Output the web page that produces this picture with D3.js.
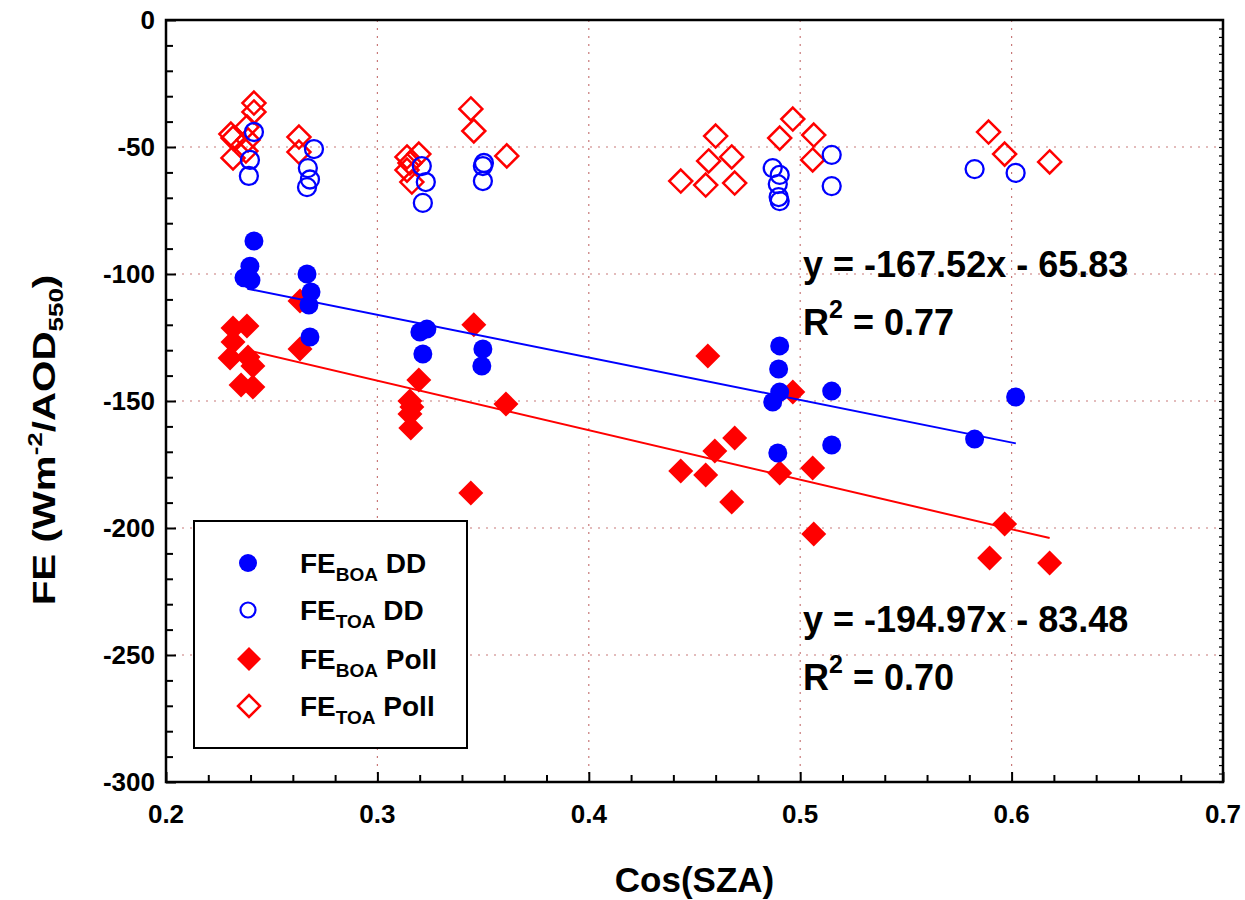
<!DOCTYPE html>
<html>
<head>
<meta charset="utf-8">
<script src="https://cdnjs.cloudflare.com/ajax/libs/d3/7.8.5/d3.min.js"></script>
<style>
  body { margin: 0; background: #fff; }
  svg { font-family: "Liberation Sans", Arial, sans-serif; font-weight: bold; }
</style>
</head>
<body>
<svg width="1245" height="900"></svg>
<script>
// FE at bottom / top of atmosphere vs cos(SZA)
var boaDD = [
  [0.2416, -87.0], [0.2397, -96.9], [0.2369, -101.5], [0.2402, -102.4],
  [0.2667, -100.0], [0.2686, -107.1], [0.2676, -112.2], [0.2681, -124.8],
  [0.3201, -122.8], [0.3234, -121.7], [0.3215, -131.5],
  [0.3499, -129.5], [0.3494, -136.2],
  [0.4903, -128.3], [0.4898, -137.4], [0.4903, -146.5], [0.4870, -150.4], [0.4894, -170.5],
  [0.5149, -146.1], [0.5149, -167.3], [0.5825, -165.0], [0.6019, -148.4]
];
var toaDD = [
  [0.2416, -44.1], [0.2397, -55.1], [0.2392, -61.4],
  [0.2700, -50.8], [0.2671, -58.3], [0.2681, -62.8], [0.2667, -65.8],
  [0.3210, -57.5], [0.3229, -63.8], [0.3215, -72.0],
  [0.3504, -56.3], [0.3499, -57.5], [0.3499, -63.4],
  [0.4870, -58.3], [0.4903, -61.0], [0.4894, -64.6], [0.4898, -69.7], [0.4903, -71.3],
  [0.5149, -53.1], [0.5149, -65.4], [0.5825, -58.7], [0.6019, -60.2]
];
var boaPoll = [
  [0.2317, -121.3], [0.2383, -120.5], [0.2317, -126.8], [0.2303, -133.1],
  [0.2388, -132.7], [0.2411, -136.2], [0.2355, -143.7], [0.2411, -144.5],
  [0.2634, -110.6], [0.2634, -129.5],
  [0.3196, -141.7], [0.3154, -150.0], [0.3163, -152.4], [0.3154, -155.1], [0.3158, -160.6],
  [0.3456, -120.0], [0.3442, -186.2], [0.3608, -151.2],
  [0.4563, -132.3], [0.4435, -177.6], [0.4553, -179.1], [0.4596, -169.7],
  [0.4690, -164.6], [0.4676, -189.8], [0.4903, -178.3], [0.4965, -146.5],
  [0.5059, -176.4], [0.5064, -202.4],
  [0.5896, -211.8], [0.5967, -198.4], [0.6180, -213.8]
];
var toaPoll = [
  [0.2416, -32.7], [0.2416, -36.2], [0.2307, -44.9], [0.2317, -46.5],
  [0.2383, -42.1], [0.2388, -47.2], [0.2378, -51.6], [0.2317, -54.3],
  [0.2629, -46.1], [0.2629, -52.0],
  [0.3196, -52.8], [0.3140, -53.9], [0.3154, -56.3], [0.3140, -59.1], [0.3163, -63.8],
  [0.3442, -35.0], [0.3456, -43.7], [0.3612, -53.5],
  [0.4600, -45.7], [0.4567, -55.5], [0.4676, -53.9],
  [0.4435, -63.4], [0.4553, -65.0], [0.4690, -64.2],
  [0.4965, -39.0], [0.4903, -46.5], [0.5064, -45.3], [0.5059, -55.1],
  [0.5891, -44.1], [0.5967, -52.8], [0.6180, -55.9]
];

// linear fits as printed on the chart, with the x span the fit line covers
var fitDD = { slope: -167.52, intercept: -65.83, r2: "0.77", from: 0.2385, to: 0.602 };
var fitPoll = { slope: -194.97, intercept: -83.48, r2: "0.70", from: 0.2397, to: 0.618 };

var xTicks = [0.2, 0.3, 0.4, 0.5, 0.6, 0.7];
var yTicks = [0, -50, -100, -150, -200, -250, -300];

var svg = d3.select("svg");
var mLeft = 166, mRight = 1223, mTop = 20, mBottom = 782;

var x = d3.scaleLinear().domain([0.2, 0.7]).range([mLeft, mRight]);
var y = d3.scaleLinear().domain([-300, 0]).range([mBottom, mTop]);

var blue = "#0000ff", red = "#ff0000";

// grid
var grid = svg.append("g")
  .attr("stroke", "#c87878")
  .attr("stroke-width", 1.2)
  .attr("stroke-dasharray", "2,6");
grid.selectAll("line.gx")
    .data(xTicks.slice(1, -1))
  .enter().append("line")
    .attr("x1", function(d) { return x(d); })
    .attr("x2", function(d) { return x(d); })
    .attr("y1", mTop).attr("y2", mBottom);
grid.selectAll("line.gy")
    .data(yTicks.slice(1, -1))
  .enter().append("line")
    .attr("y1", function(d) { return y(d); })
    .attr("y2", function(d) { return y(d); })
    .attr("x1", mLeft).attr("x2", mRight);

// axes, ticks pointing inside
var xAxis = svg.append("g").attr("transform", "translate(0," + mBottom + ")")
  .call(d3.axisBottom(x).tickValues(d3.range(0.2, 0.7001, 0.02))
    .tickSize(-7).tickFormat(""));
xAxis.selectAll(".tick line").attr("stroke-width", 2)
  .filter(function(d) { return Math.abs(d * 10 - Math.round(d * 10)) < 1e-6; })
  .attr("y2", -10);
xAxis.select(".domain").remove();

var yAxis = svg.append("g").attr("transform", "translate(" + mLeft + ",0)")
  .call(d3.axisLeft(y).tickValues(d3.range(-300, 0.001, 10))
    .tickSize(-7).tickFormat(""));
yAxis.selectAll(".tick line").attr("stroke-width", 2)
  .filter(function(d) { return d % 50 === 0; })
  .attr("x2", 10);
yAxis.select(".domain").remove();

var yAxisR = svg.append("g").attr("transform", "translate(" + mRight + ",0)")
  .call(d3.axisRight(y).tickValues(d3.range(-300, 0.001, 10 / 3))
    .tickSize(-4).tickFormat(""));
yAxisR.selectAll(".tick line").attr("stroke-width", 1.2);
yAxisR.select(".domain").remove();

svg.append("rect")
  .attr("x", mLeft).attr("y", mTop)
  .attr("width", mRight - mLeft).attr("height", mBottom - mTop)
  .attr("fill", "none").attr("stroke", "#000").attr("stroke-width", 2.5);

// tick labels
svg.selectAll("text.xt")
    .data(xTicks)
  .enter().append("text")
    .attr("x", function(d) { return x(d); })
    .attr("y", 823)
    .attr("text-anchor", "middle")
    .attr("font-size", 26)
    .text(function(d) { return d3.format(".1f")(d); });
svg.selectAll("text.yt")
    .data(yTicks)
  .enter().append("text")
    .attr("x", 155)
    .attr("y", function(d) { return y(d) + 9; })
    .attr("text-anchor", "end")
    .attr("font-size", 26)
    .text(function(d) { return d; });

// axis titles
svg.append("text")
  .attr("x", (mLeft + mRight) / 2).attr("y", 892)
  .attr("text-anchor", "middle").attr("font-size", 35)
  .text("Cos(SZA)");

var yt = svg.append("text")
  .attr("transform", "translate(55,440) rotate(-90) scale(1.3,1)")
  .attr("text-anchor", "middle").attr("font-size", 31);
yt.append("tspan").text("FE (Wm");
yt.append("tspan").attr("dy", -13).attr("font-size", 20).text("-2");
yt.append("tspan").attr("dy", 13).text("/AOD");
yt.append("tspan").attr("dy", 8).attr("font-size", 20).text("550");
yt.append("tspan").attr("dy", -8).text(")");

// fit lines
function fitLine(fit, color) {
  svg.append("line")
    .attr("x1", x(fit.from)).attr("y1", y(fit.slope * fit.from + fit.intercept))
    .attr("x2", x(fit.to)).attr("y2", y(fit.slope * fit.to + fit.intercept))
    .attr("stroke", color).attr("stroke-width", 2);
}

function diamond(s) {
  return "M0," + (-s) + "L" + s + ",0L0," + s + "L" + (-s) + ",0Z";
}

// markers
svg.append("g").selectAll("path")
    .data(toaPoll)
  .enter().append("path")
    .attr("d", diamond(11.5))
    .attr("transform", function(d) { return "translate(" + x(d[0]) + "," + y(d[1]) + ")"; })
    .attr("fill", "none").attr("stroke", red).attr("stroke-width", 2.5);

svg.append("g").selectAll("circle")
    .data(toaDD)
  .enter().append("circle")
    .attr("cx", function(d) { return x(d[0]); })
    .attr("cy", function(d) { return y(d[1]); })
    .attr("r", 9)
    .attr("fill", "none").attr("stroke", blue).attr("stroke-width", 2.3);

svg.append("g").selectAll("path")
    .data(boaPoll)
  .enter().append("path")
    .attr("d", diamond(12.5))
    .attr("transform", function(d) { return "translate(" + x(d[0]) + "," + y(d[1]) + ")"; })
    .attr("fill", red);

svg.append("g").selectAll("circle")
    .data(boaDD)
  .enter().append("circle")
    .attr("cx", function(d) { return x(d[0]); })
    .attr("cy", function(d) { return y(d[1]); })
    .attr("r", 9.5)
    .attr("fill", blue);

fitLine(fitDD, blue);
fitLine(fitPoll, red);

// equations
function equation(fit, y0) {
  svg.append("text").attr("x", 803).attr("y", y0).attr("font-size", 36)
    .text("y = " + fit.slope.toFixed(2) + "x - " + Math.abs(fit.intercept).toFixed(2));
  var t = svg.append("text").attr("x", 803).attr("y", y0 + 58).attr("font-size", 36);
  t.append("tspan").text("R");
  t.append("tspan").attr("dy", -17).attr("font-size", 25).text("2");
  t.append("tspan").attr("dy", 17).text(" = " + fit.r2);
}
equation(fitDD, 277);
equation(fitPoll, 632);

// legend
var legend = svg.append("g");
legend.append("rect")
  .attr("x", 194).attr("y", 521).attr("width", 273).attr("height", 227)
  .attr("fill", "#fff").attr("stroke", "#000").attr("stroke-width", 2);

var legendItems = [
  { sub: "BOA", tail: " DD", kind: "circle", fill: true },
  { sub: "TOA", tail: " DD", kind: "circle", fill: false },
  { sub: "BOA", tail: " Poll", kind: "diamond", fill: true },
  { sub: "TOA", tail: " Poll", kind: "diamond", fill: false }
];
var rowY = [563, 610, 659, 706];

legendItems.forEach(function(it, i) {
  var cy = rowY[i], col = it.kind === "circle" ? blue : red;
  if (it.kind === "circle") {
    legend.append("circle").attr("cx", 248).attr("cy", cy).attr("r", it.fill ? 9 : 7.5)
      .attr("fill", it.fill ? col : "none").attr("stroke", it.fill ? "none" : col)
      .attr("stroke-width", 2.2);
  } else {
    legend.append("path").attr("d", diamond(it.fill ? 12 : 11))
      .attr("transform", "translate(249," + cy + ")")
      .attr("fill", it.fill ? col : "none").attr("stroke", it.fill ? "none" : col)
      .attr("stroke-width", 2.5);
  }
  var t = legend.append("text").attr("x", 300).attr("y", cy + 10).attr("font-size", 28);
  t.append("tspan").text("FE");
  t.append("tspan").attr("dy", 8).attr("font-size", 19).text(it.sub);
  t.append("tspan").attr("dy", -8).text(it.tail);
});
</script>
</body>
</html>
